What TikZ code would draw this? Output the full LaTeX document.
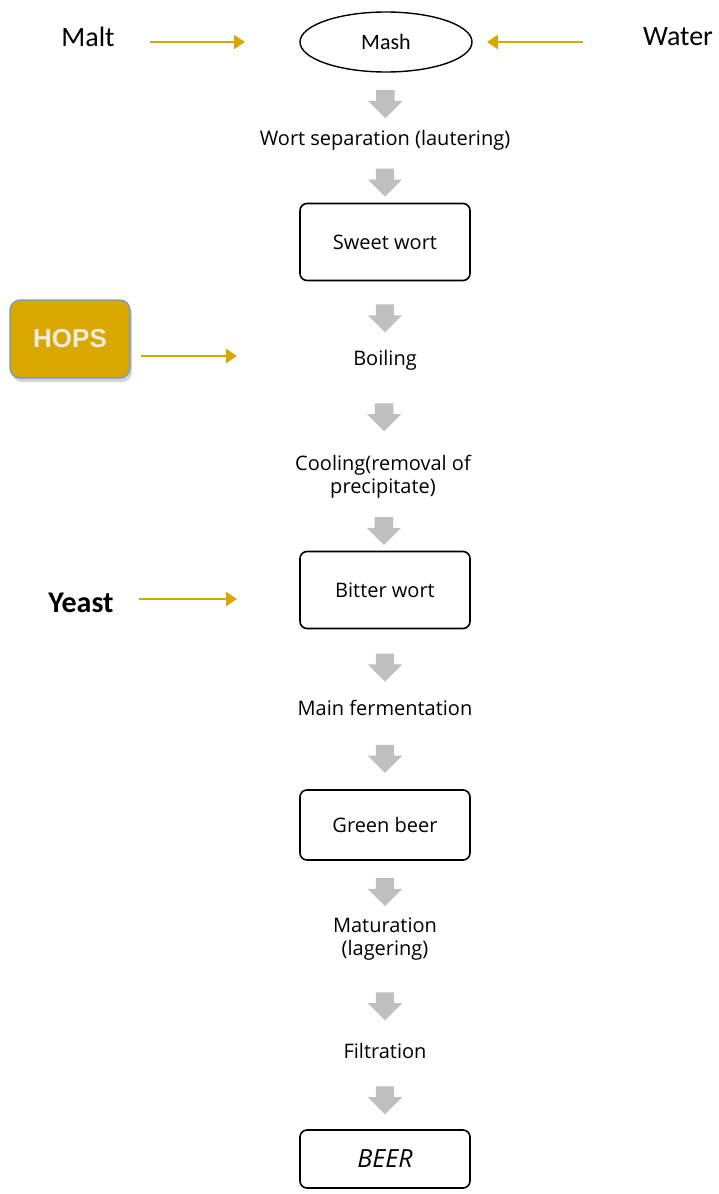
\documentclass[tikz,border=0pt]{standalone}
\usepackage{fontspec}
\setmainfont{Carlito}
\newfontfamily\stagefont{Open Sans}
\newfontfamily\hopsfont{Liberation Sans}
\usetikzlibrary{shapes.geometric,shapes.arrows,arrows.meta,shadows}

\definecolor{gold}{RGB}{217,168,0}
\definecolor{flowgray}{RGB}{191,191,191}
\definecolor{hopsedge}{RGB}{108,154,208}
\definecolor{hopstext}{RGB}{238,235,222}

\tikzset{
  stage/.style={draw,line width=1.6pt,rounded corners=7pt,minimum width=170pt,
    font=\stagefont\fontsize{20}{23}\selectfont},
  steplabel/.style={align=center,font=\stagefont\fontsize{20}{23}\selectfont},
  input/.style={font=\fontsize{28}{32}\selectfont},
  feed/.style={draw=gold,line width=2.8pt,-{Triangle[length=11pt,width=14pt]}},
  flow/.style={single arrow,shape border rotate=270,fill=flowgray,draw=none,
    minimum width=34pt,minimum height=28pt,inner sep=9pt,
    single arrow head extend=8pt,single arrow head indent=0pt},
  hopsbox/.style={draw=hopsedge,line width=1.2pt,fill=gold,rounded corners=10pt,
    minimum width=120pt,minimum height=78pt,text=hopstext,
    drop shadow={shadow xshift=2pt,shadow yshift=-4pt,opacity=0.35},
    font=\hopsfont\bfseries\fontsize{26}{28}\selectfont}
}

\begin{document}
\begin{tikzpicture}[x=1pt,y=-1pt]
\useasboundingbox (0,0) rectangle (719,1194);

% main line
\node[ellipse,draw,line width=1.4pt,minimum width=172pt,minimum height=60pt,
  font=\fontsize{22}{26}\selectfont] (mash) at (386,42) {Mash};
\node[steplabel] (lauter) at (385,140) {Wort separation (lautering)};
\node[stage,minimum height=77pt] (sweet) at (385,242) {Sweet wort};
\node[steplabel] (boil) at (385,360) {Boiling};
\node[steplabel] (cool) at (383,477) {Cooling(removal of\\precipitate)};
\node[stage,minimum height=77pt] (bitter) at (385,590) {Bitter wort};
\node[steplabel] (mainferm) at (385,708) {Main fermentation};
\node[stage,minimum height=70pt] (green) at (385,825) {Green beer};
\node[steplabel] (matur) at (385,939) {Maturation\\(lagering)};
\node[steplabel] (filt) at (385,1051) {Filtration};
\node[stage,minimum height=58pt,font=\stagefont\itshape\fontsize{25}{28}\selectfont]
  (beer) at (385,1159) {BEER};

\foreach \a/\b in {mash/lauter,lauter/sweet,sweet/boil,boil/cool,cool/bitter,
  bitter/mainferm,mainferm/green,green/matur,matur/filt,filt/beer}
  \path (\a) -- node[flow] {} (\b);

% inputs
\node[input] (malt) at (88,37) {Malt};
\node[input] (water) at (678,37) {Water};
\node[hopsbox] (hops) at (70,339) {HOPS};
\node[input,font=\bfseries\fontsize{30}{34}\selectfont] (yeast) at (81,603) {Yeast};

\coordinate (maltin) at (245,42);
\coordinate (waterin) at (487,42);
\coordinate (hopsin) at (237,356);
\coordinate (yeastin) at (237,599);

\draw[feed,shorten <=32pt] (malt.east |- maltin) -- (maltin);
\draw[feed,shorten <=57pt] (water.west |- waterin) -- (waterin);
\draw[feed,shorten <=10pt] (hops.east |- hopsin) -- (hopsin);
\draw[feed,shorten <=22pt] (yeast.east |- yeastin) -- (yeastin);
\end{tikzpicture}
\end{document}
